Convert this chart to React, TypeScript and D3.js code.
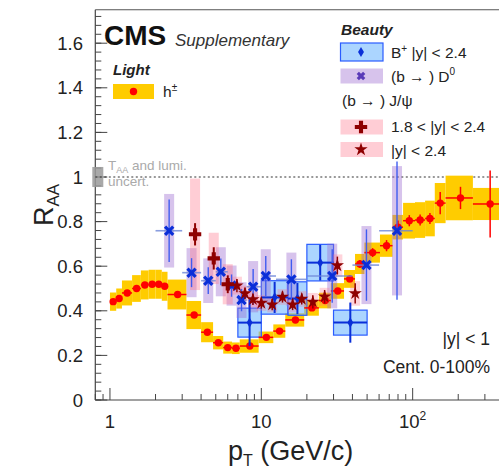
import React from "react";
import * as d3 from "d3";

const W = 499;
const H = 469;
const FONT = "'Liberation Sans', Arial, Helvetica, sans-serif";

// ---- Light: charged hadrons h± (bins, RAA, syst, stat)
const hBinLo = [1.0, 1.1, 1.2, 1.4, 1.6, 1.8, 2.0, 2.2, 2.4, 3.2, 4.0, 4.8, 5.6, 6.4, 7.2, 9.6, 12, 14.4, 19.2, 24, 28.8, 35.2, 41.6, 48, 60.8, 73.6, 86.4, 103.6, 120.8, 140, 165, 250];
const hBinHi = [1.1, 1.2, 1.4, 1.6, 1.8, 2.0, 2.2, 2.4, 3.2, 4.0, 4.8, 5.6, 6.4, 7.2, 9.6, 12, 14.4, 19.2, 24, 28.8, 35.2, 41.6, 48, 60.8, 73.6, 86.4, 103.6, 120.8, 140, 165, 250, 400];
const hPt = [1.05, 1.15, 1.3, 1.5, 1.7, 1.9, 2.1, 2.3, 2.8, 3.6, 4.4, 5.2, 6.0, 6.8, 8.4, 10.8, 13.2, 16.8, 21.6, 26.4, 32, 38.4, 44.8, 54.4, 67.2, 80, 95, 112, 130, 152, 207, 325];
const hRaa = [0.441, 0.455, 0.48, 0.5, 0.516, 0.519, 0.519, 0.51, 0.473, 0.381, 0.304, 0.257, 0.235, 0.232, 0.242, 0.281, 0.309, 0.359, 0.413, 0.446, 0.489, 0.543, 0.61, 0.661, 0.692, 0.775, 0.804, 0.807, 0.814, 0.883, 0.906, 0.879];
const hSys = [0.041, 0.045, 0.056, 0.06, 0.065, 0.065, 0.065, 0.065, 0.067, 0.063, 0.045, 0.03, 0.027, 0.026, 0.03, 0.026, 0.03, 0.03, 0.035, 0.035, 0.035, 0.04, 0.045, 0.045, 0.05, 0.055, 0.08, 0.08, 0.08, 0.09, 0.1, 0.072];
const hStat = [0.003, 0.003, 0.003, 0.003, 0.003, 0.003, 0.003, 0.003, 0.004, 0.004, 0.004, 0.004, 0.004, 0.004, 0.004, 0.005, 0.005, 0.006, 0.008, 0.01, 0.012, 0.015, 0.018, 0.02, 0.025, 0.03, 0.025, 0.025, 0.025, 0.05, 0.05, 0.15];

// ---- Beauty: B+ |y|<2.4
const bBinLo = [7, 10, 15, 20, 30];
const bBinHi = [10, 15, 20, 30, 50];
const bRaa = [0.347, 0.46, 0.455, 0.616, 0.347];
const bSys = [0.065, 0.075, 0.075, 0.082, 0.056];
const bStat = [0.105, 0.07, 0.07, 0.08, 0.09];

// ---- Beauty: (b ->) D0
const dPt = [2.46, 3.46, 4.46, 5.4, 6.36, 7.4, 8.83, 10.7, 15.8, 29.4, 49.5, 78.8];
const dBinLo = [2, 3, 4, 5, 6, 7, 8, 10, 12.5, 20, 40, 60];
const dBinHi = [3, 4, 5, 6, 7, 8, 10, 12.5, 20, 40, 60, 100];
const dRaa = [0.759, 0.571, 0.535, 0.575, 0.513, 0.448, 0.508, 0.556, 0.541, 0.556, 0.605, 0.759];
const dSys = [0.165, 0.11, 0.1, 0.11, 0.09, 0.08, 0.115, 0.12, 0.12, 0.145, 0.175, 0.29];
const dStat = [0.14, 0.065, 0.06, 0.06, 0.05, 0.05, 0.08, 0.09, 0.09, 0.12, 0.16, 0.31];

// ---- Beauty: (b ->) J/psi 1.8<|y|<2.4
const jfPt = [3.65, 4.85, 6.0];
const jfRaa = [0.743, 0.635, 0.519];
const jfSys = [0.25, 0.115, 0.09];
const jfStat = [0.05, 0.05, 0.04];

// ---- Beauty: (b ->) J/psi |y|<2.4
const jPt = [6.9, 7.8, 8.8, 10.0, 11.8, 13.8, 16.1, 18.5, 21.9, 26.2, 31.8, 41.7];
const jRaa = [0.513, 0.478, 0.451, 0.435, 0.428, 0.462, 0.428, 0.453, 0.44, 0.463, 0.603, 0.478];
const jSys = [0.04, 0.035, 0.035, 0.035, 0.035, 0.035, 0.035, 0.035, 0.04, 0.04, 0.05, 0.055];
const jStat = [0.03, 0.025, 0.025, 0.025, 0.025, 0.025, 0.025, 0.025, 0.03, 0.03, 0.04, 0.045];

// ---- axis ticks
const yMajor = [0, 0.2, 0.4, 0.6, 0.8, 1.0, 1.2, 1.4, 1.6];
const xMajor = [1, 10, 100];
const xMinor = [0.8, 0.9, 2, 3, 4, 5, 6, 7, 8, 9, 20, 30, 40, 50, 60, 70, 80, 90, 200, 300, 400];

const C = {
  yellow: "#ffcc00",
  red: "#ff0000",
  blueFill: "#66b3ff",
  blueLine: "#2a5cff",
  blueMark: "#0a2fd8",
  purple: "#9a6ad0",
  pink: "#ff7088",
  darkRed: "#8e0000",
};

function XMark({ cx, cy, s, color }: { cx: number; cy: number; s: number; color: string }) {
  return (
    <g stroke={color} strokeWidth={3.2}>
      <line x1={cx - s} y1={cy - s} x2={cx + s} y2={cy + s} />
      <line x1={cx - s} y1={cy + s} x2={cx + s} y2={cy - s} />
    </g>
  );
}

export default function App() {
  const x = d3.scaleLog().domain([0.8, 420]).range([95.3, 507]);
  const y = d3.scaleLinear().domain([0, 1.75]).range([400, 9.75]);
  const [left, right] = x.range();
  const [bottom, top] = y.range();
  const crossPath = d3.symbol(d3.symbolCross, 85)() as string;
  const starPath = d3.symbol(d3.symbolStar, 55)() as string;
  const bw = 5; // half-width of fixed-width syst boxes
  const gmean = (a: number, b: number) => Math.sqrt(a * b);
  const yMinor = d3.range(0, 1.75, 0.04);

  return (
    <svg width={W} height={H} style={{ position: "absolute", left: 0, top: 0, background: "#fff" }} fontFamily={FONT}>
      {/* frame */}
      <line x1={left} x2={right} y1={top} y2={top} stroke="#555" strokeWidth={1.2} />
      <line x1={left} x2={left} y1={top} y2={bottom} stroke="#444" strokeWidth={1.2} />
      <line x1={left} x2={right} y1={bottom} y2={bottom} stroke="#444" strokeWidth={1.2} />

      {/* y ticks */}
      {yMinor.map((v, i) => (
        <line key={"ym" + i} x1={left} x2={left + 6} y1={y(v)} y2={y(v)} stroke="#444" />
      ))}
      {yMajor.map((v) => (
        <g key={"yM" + v}>
          <line x1={left} x2={left + 12} y1={y(v)} y2={y(v)} stroke="#444" />
          <text x={83} y={y(v)} dy="0.36em" textAnchor="end" fontSize={18.5} fill="#222">
            {v === 0 ? "0" : v === 1 ? "1" : d3.format(".1f")(v)}
          </text>
        </g>
      ))}

      {/* x ticks */}
      {xMinor.map((v) => (
        <line key={"xm" + v} x1={x(v)} x2={x(v)} y1={bottom} y2={bottom - 6} stroke="#444" />
      ))}
      {xMajor.map((v) => (
        <line key={"xM" + v} x1={x(v)} x2={x(v)} y1={bottom} y2={bottom - 12} stroke="#444" />
      ))}
      <text x={x(1)} y={428} textAnchor="middle" fontSize={18.5} fill="#222">1</text>
      <text x={x(10)} y={428} textAnchor="middle" fontSize={18.5} fill="#222">10</text>
      <text x={x(100)} y={428} textAnchor="middle" fontSize={18.5} fill="#222">
        10<tspan dy={-8} fontSize={12}>2</tspan>
      </text>

      {/* axis titles */}
      <text x={228} y={460} fontSize={27} fill="#222">
        p<tspan dy={6} fontSize={16}>T</tspan>
        <tspan dy={-6}> (GeV/c)</tspan>
      </text>
      <text transform="translate(53,226) rotate(-90)" fontSize={27} fill="#222">
        R<tspan dy={6} fontSize={17}>AA</tspan>
      </text>

      {/* unity line and global uncertainty */}
      <rect x={left - 3} width={11} y={y(1.045)} height={y(0.955) - y(1.045)} fill="#999" opacity={0.85} />
      <line x1={left} x2={right} y1={y(1)} y2={y(1)} stroke="#333" strokeDasharray="2,2.5" strokeWidth={1.2} />
      <text x={108} y={170} fontSize={13.5} fill="#aaa">
        T<tspan dy={3} fontSize={9}>AA</tspan>
        <tspan dy={-3}> and lumi.</tspan>
      </text>
      <text x={108} y={186} fontSize={13.5} fill="#aaa">uncert.</text>

      {/* h± syst boxes */}
      {hPt.map((_, i) => (
        <rect key={"hs" + i} x={x(hBinLo[i])} width={x(hBinHi[i]) - x(hBinLo[i])} y={y(hRaa[i] + hSys[i])} height={y(hRaa[i] - hSys[i]) - y(hRaa[i] + hSys[i])} fill={C.yellow} />
      ))}

      {/* B+ syst boxes */}
      {bRaa.map((r, i) => (
        <rect key={"bs" + i} x={x(bBinLo[i])} width={x(bBinHi[i]) - x(bBinLo[i])} y={y(r + bSys[i])} height={y(r - bSys[i]) - y(r + bSys[i])} fill={C.blueFill} fillOpacity={0.55} stroke={C.blueLine} strokeWidth={1.2} />
      ))}

      {/* D0 syst boxes */}
      {dPt.map((p, i) => (
        <rect key={"ds" + i} x={x(p) - bw} width={2 * bw} y={y(dRaa[i] + dSys[i])} height={y(dRaa[i] - dSys[i]) - y(dRaa[i] + dSys[i])} fill={C.purple} fillOpacity={0.4} />
      ))}

      {/* J/psi syst boxes */}
      {jfPt.map((p, i) => (
        <rect key={"jfs" + i} x={x(p) - bw} width={2 * bw} y={y(jfRaa[i] + jfSys[i])} height={y(jfRaa[i] - jfSys[i]) - y(jfRaa[i] + jfSys[i])} fill={C.pink} fillOpacity={0.35} />
      ))}
      {jPt.map((p, i) => (
        <rect key={"js" + i} x={x(p) - bw} width={2 * bw} y={y(jRaa[i] + jSys[i])} height={y(jRaa[i] - jSys[i]) - y(jRaa[i] + jSys[i])} fill={C.pink} fillOpacity={0.3} />
      ))}

      {/* h± points */}
      {hPt.map((p, i) => (
        <g key={"hp" + i} stroke={C.red} strokeWidth={1.5}>
          <line x1={x(hBinLo[i])} x2={x(hBinHi[i])} y1={y(hRaa[i])} y2={y(hRaa[i])} />
          <line x1={x(p)} x2={x(p)} y1={y(hRaa[i] + hStat[i])} y2={y(hRaa[i] - hStat[i])} />
          <circle cx={x(p)} cy={y(hRaa[i])} r={3.7} fill={C.red} stroke="none" />
        </g>
      ))}

      {/* B+ points */}
      {bRaa.map((r, i) => {
        const p = gmean(bBinLo[i], bBinHi[i]);
        return (
          <g key={"bp" + i} stroke={C.blueMark} strokeWidth={2}>
            <line x1={x(bBinLo[i])} x2={x(bBinHi[i])} y1={y(r)} y2={y(r)} />
            <line x1={x(p)} x2={x(p)} y1={y(r + bStat[i])} y2={y(r - bStat[i])} />
            <path d={d3.symbol(d3.symbolDiamond, 30)() as string} transform={`translate(${x(p)},${y(r)})`} fill={C.blueMark} stroke="none" />
          </g>
        );
      })}

      {/* D0 points */}
      {dPt.map((p, i) => (
        <g key={"dp" + i}>
          <line x1={x(dBinLo[i])} x2={x(dBinHi[i])} y1={y(dRaa[i])} y2={y(dRaa[i])} stroke="#6d86d8" strokeWidth={1.6} opacity={0.8} />
          <line x1={x(p)} x2={x(p)} y1={y(dRaa[i] + dStat[i])} y2={y(dRaa[i] - dStat[i])} stroke="#3f5cf0" strokeWidth={1.4} />
          <XMark cx={x(p)} cy={y(dRaa[i])} s={4.1} color={C.blueMark} />
        </g>
      ))}

      {/* J/psi points */}
      {jfPt.map((p, i) => (
        <g key={"jfp" + i}>
          <line x1={x(p)} x2={x(p)} y1={y(jfRaa[i] + jfStat[i])} y2={y(jfRaa[i] - jfStat[i])} stroke={C.darkRed} strokeWidth={2} />
          <path d={crossPath} transform={`translate(${x(p)},${y(jfRaa[i])})`} fill={C.darkRed} />
        </g>
      ))}
      {jPt.map((p, i) => (
        <g key={"jp" + i}>
          <line x1={x(p)} x2={x(p)} y1={y(jRaa[i] + jStat[i])} y2={y(jRaa[i] - jStat[i])} stroke={C.darkRed} strokeWidth={1.5} />
          <path d={starPath} transform={`translate(${x(p)},${y(jRaa[i])})`} fill={C.darkRed} />
        </g>
      ))}

      {/* CMS label */}
      <text x={104} y={45} fontSize={28} fontWeight="bold" fill="#111">CMS</text>
      <text x={175} y={46} fontSize={17} fontStyle="italic" fill="#333">Supplementary</text>

      {/* Light legend */}
      <text x={113} y={75} fontSize={15} fontWeight="bold" fontStyle="italic" fill="#222">Light</text>
      <rect x={113} y={84} width={41} height={15} fill={C.yellow} />
      <circle cx={133.5} cy={91.5} r={3.7} fill={C.red} />
      <text x={163} y={97} fontSize={15.5} fill="#222">
        h<tspan dy={-6} fontSize={10}>±</tspan>
      </text>

      {/* Beauty legend */}
      <text x={341} y={35} fontSize={15.5} fontWeight="bold" fontStyle="italic" fill="#222">Beauty</text>
      <rect x={340.5} y={43} width={42.5} height={18} fill={C.blueFill} fillOpacity={0.55} stroke={C.blueLine} strokeWidth={1.2} />
      <path d={d3.symbol(d3.symbolDiamond, 30)() as string} transform="translate(361,52)" fill={C.blueMark} />
      <text x={391} y={58} fontSize={15.5} fill="#222">
        B<tspan dy={-6} fontSize={10}>+</tspan>
        <tspan dy={6}> |y| &lt; 2.4</tspan>
      </text>

      <rect x={340.5} y={68.5} width={42.5} height={15} fill={C.purple} fillOpacity={0.4} />
      <XMark cx={361} cy={76} s={3.2} color="#5a3ab8" />
      <text x={391} y={82} fontSize={15.5} fill="#222">
        (b → ) D<tspan dy={-7} fontSize={10}>0</tspan>
      </text>

      <text x={342} y={106} fontSize={15.5} fill="#222">(b → ) J/ψ</text>

      <rect x={340.5} y={119.5} width={42.5} height={15} fill={C.pink} fillOpacity={0.35} />
      <path d={crossPath} transform="translate(361,127)" fill={C.darkRed} />
      <text x={391} y={132} fontSize={15.5} fill="#222">1.8 &lt; |y| &lt; 2.4</text>

      <rect x={340.5} y={142} width={42.5} height={15} fill={C.pink} fillOpacity={0.35} />
      <path d={starPath} transform="translate(361,149.5)" fill={C.darkRed} />
      <text x={391} y={156} fontSize={15.5} fill="#222">|y| &lt; 2.4</text>

      {/* annotations */}
      <text x={490} y={345} textAnchor="end" fontSize={17.5} fill="#222">|y| &lt; 1</text>
      <text x={490} y={373} textAnchor="end" fontSize={17.5} fill="#222">Cent. 0-100%</text>
    </svg>
  );
}
